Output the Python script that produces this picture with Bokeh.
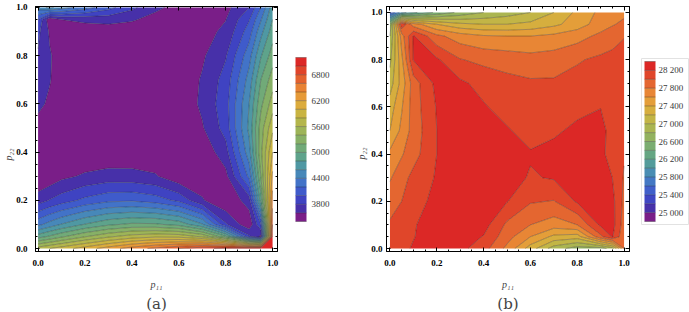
import numpy as np
from bokeh.plotting import figure
from bokeh.layouts import row
from bokeh.models import (Range1d, LinearAxis, SingleIntervalTicker, FixedTicker, Title,
                          PrintfTickFormatter, CustomJSTickFormatter)
from bokeh.embed import file_html
from bokeh.resources import INLINE

# ---------------- data ----------------
p11_grid = [0, 0.05, 0.1, 0.2, 0.3, 0.4, 0.5, 0.6, 0.7, 0.8, 0.9, 0.95, 1.0]
p22_grid = [0, 0.05, 0.1, 0.2, 0.3, 0.4, 0.5, 0.6, 0.7, 0.8, 0.9, 0.95, 1.0]

# panel (a): one row per p22 value, columns follow p11_grid
cost_a = [
    [5700, 5800, 5900, 6100, 6300, 6500, 6650, 6800, 6950, 7050, 7150, 7180, 7190],
    [4900, 5030, 5160, 5380, 5560, 5690, 5750, 5730, 5560, 5030, 3840, 3550, 7000],
    [4340, 4480, 4610, 4810, 4960, 5040, 5030, 4930, 4620, 3830, 3450, 3990, 6800],
    [3700, 3810, 3900, 4050, 4150, 4170, 4100, 3950, 3620, 3420, 3700, 4900, 6500],
    [3420, 3460, 3550, 3630, 3680, 3670, 3620, 3450, 3480, 3540, 4250, 5200, 6250],
    [3450, 3450, 3460, 3440, 3440, 3450, 3450, 3430, 3460, 3720, 4520, 5350, 6000],
    [3540, 3480, 3450, 3430, 3420, 3420, 3430, 3430, 3580, 3880, 4650, 5300, 5750],
    [3640, 3570, 3470, 3440, 3420, 3420, 3430, 3450, 3640, 3920, 4600, 5150, 5500],
    [3720, 3610, 3500, 3450, 3430, 3430, 3440, 3460, 3620, 3880, 4480, 5000, 5300],
    [3780, 3620, 3500, 3460, 3450, 3450, 3460, 3470, 3570, 3780, 4320, 4780, 5100],
    [3850, 3570, 3510, 3500, 3490, 3500, 3500, 3500, 3530, 3640, 4100, 4530, 4900],
    [4000, 3450, 3600, 3640, 3670, 3620, 3540, 3520, 3510, 3595, 3980, 4380, 4800],
    [4500, 4650, 4500, 4300, 4070, 3850, 3640, 3540, 3520, 3540, 3800, 4200, 4700],
]
levels_a = list(range(3400, 7201, 200))
ticks_a = [3800, 4400, 5000, 5600, 6200, 6800]

# panel (b)
cost_b = [
    [28120, 28150, 28220, 28300, 28260, 28080, 27750, 27300, 26900, 26700, 26700, 26900, 27800],
    [28080, 28100, 28190, 28320, 28300, 28190, 27880, 27600, 27350, 27300, 27950, 28220, 27850],
    [28030, 28060, 28180, 28320, 28330, 28280, 27960, 27800, 27700, 27800, 28240, 28280, 27900],
    [27900, 28000, 28130, 28250, 28340, 28330, 28210, 28020, 27990, 28230, 28300, 28260, 27950],
    [27780, 27920, 28060, 28220, 28340, 28340, 28290, 28180, 28220, 28300, 28320, 28200, 27980],
    [27650, 27780, 27920, 28200, 28320, 28330, 28290, 28220, 28260, 28320, 28250, 28120, 28020],
    [27400, 27650, 27880, 28200, 28300, 28280, 28220, 28120, 28170, 28240, 28260, 28130, 28080],
    [27300, 27580, 27900, 28215, 28290, 28220, 28120, 28080, 28100, 28150, 28195, 28120, 28100],
    [27100, 27480, 27900, 28260, 28240, 28130, 28060, 28030, 28030, 28070, 28100, 28100, 28100],
    [26950, 27550, 28210, 28230, 28010, 27950, 27920, 27880, 27900, 27980, 28040, 28060, 28080],
    [26800, 27700, 28220, 27850, 27700, 27620, 27600, 27600, 27650, 27720, 27850, 27920, 27990],
    [26650, 28180, 27700, 27400, 27250, 27200, 27200, 27250, 27350, 27500, 27700, 27780, 27850],
    [25400, 25900, 26150, 26450, 26650, 26800, 26900, 27000, 27200, 27450, 27650, 27700, 27750],
]
levels_b = list(range(24800, 28401, 200))
ticks_b = [25000, 25400, 25800, 26200, 26600, 27000, 27400, 27800, 28200]
tick_labels_b = ["25 000", "25 400", "25 800", "26 200", "26 600", "27 000", "27 400", "27 800", "28 200"]

# ---------------- styling ----------------
rainbow_stops = ["#7a1e88", "#4730a9", "#3f43c2", "#3f5bcb", "#4273c8", "#4788b9", "#4f98a3",
                 "#5ea38b", "#71aa78", "#87b066", "#9db458", "#b4b64c", "#c9b442", "#dcac3d",
                 "#e69a38", "#e88234", "#e3622f", "#e0442a", "#dc2826"]


def sample(stops, n):
    rgb = [tuple(int(s[i:i + 2], 16) for i in (1, 3, 5)) for s in stops]
    out = []
    for k in range(n):
        t = k / (n - 1) * (len(rgb) - 1)
        i = min(int(t), len(rgb) - 2)
        f = t - i
        c = tuple(int(round(rgb[i][j] * (1 - f) + rgb[i + 1][j] * f)) for j in range(3))
        out.append("#%02x%02x%02x" % c)
    return out


SERIF = "Liberation Serif"


def make_panel(z, levels, width, height, xr, yr, borders, caption, ystand, ylab_off, ylab_stand):
    bl, br, bt, bb = borders
    p = figure(width=width, height=height, x_range=Range1d(*xr), y_range=Range1d(*yr),
               output_backend="svg", toolbar_location=None,
               min_border_left=bl, min_border_right=br, min_border_top=bt, min_border_bottom=bb)
    p.background_fill_color = "white"
    p.border_fill_color = "white"
    p.outline_line_color = "black"
    p.outline_line_width = 1
    p.xgrid.visible = False
    p.ygrid.visible = False
    pal = sample(rainbow_stops, len(levels) - 1)
    cr = p.contour(x=np.array(p11_grid), y=np.array(p22_grid), z=np.array(z, dtype=float),
                   levels=levels, fill_color=pal, line_color="#1a1a1a",
                   line_alpha=0.55, line_width=0.6)
    for ax in (p.xaxis[0], p.yaxis[0]):
        ax.ticker = SingleIntervalTicker(interval=0.2, num_minor_ticks=4)
        ax.formatter = PrintfTickFormatter(format="%.1f")
        ax.major_tick_in = 4
        ax.major_tick_out = 0
        ax.minor_tick_in = 2
        ax.minor_tick_out = 0
        ax.axis_line_color = "black"
        ax.major_label_text_font = SERIF
        ax.major_label_text_font_style = "bold"
        ax.major_label_text_font_size = "9px"
        ax.major_label_text_color = "black"
    p.xaxis.major_label_standoff = 8
    p.yaxis.major_label_standoff = ystand
    p.xaxis.axis_label = "p\u2081\u2081"
    p.xaxis.axis_label_text_font = SERIF
    p.xaxis.axis_label_text_font_style = "italic"
    p.xaxis.axis_label_text_font_size = "10px"
    p.xaxis.axis_label_standoff = 10
    for side in ("above", "right"):
        ax = LinearAxis(ticker=SingleIntervalTicker(interval=0.2, num_minor_ticks=4),
                        formatter=CustomJSTickFormatter(code="return ''"),
                        major_label_text_font_size="0px", major_label_standoff=0,
                        major_tick_in=4, major_tick_out=0, minor_tick_in=2, minor_tick_out=0,
                        axis_line_color="black")
        p.add_layout(ax, side)
    p.add_layout(Title(text="p\u2082\u2082", align="left", offset=ylab_off, standoff=ylab_stand,
                       text_font=SERIF, text_font_style="italic", text_font_size="10px"),
                 "left")
    p.add_layout(Title(text=caption, align="center", text_font="DejaVu Serif",
                       text_font_size="15px", text_font_style="normal", standoff=0, offset=0),
                 "below")
    return p, cr


def add_bar(p, cr, ticks, overrides, location, height, padding, standoff, border):
    cb = cr.construct_color_bar(location=location, width=11, height=height, padding=padding,
                                margin=0, label_standoff=standoff, major_label_text_font=SERIF,
                                major_label_text_font_size="9px", major_label_text_color="#3a3a3a",
                                major_tick_line_color=None, border_line_color=border,
                                background_fill_color="white" if border else None)
    cb.ticker = FixedTicker(ticks=ticks)
    if overrides:
        cb.major_label_overrides = overrides
    p.add_layout(cb, "right")
    return cb


pa, cra = make_panel(cost_a, levels_a, 340, 312, (-0.011, 1.021), (-0.0124, 1.0041),
                     (30, 63, 2, 61), "(a)", 8, 91, 0)
add_bar(pa, cra, ticks_a, None, (18, 30), 164, 0, 5, None)

pb, crb = make_panel(cost_b, levels_b, 349, 312, (-0.0148, 1.0232), (-0.0127, 1.0253),
                     (46, 57, 6, 60), "(b)", 4, 92, 4)
add_bar(pb, crb, ticks_b, dict(zip(ticks_b, tick_labels_b)), (12, 27), 160, 3, 3, "#e2e2e2")

layout = row(pa, pb)
open("out.html", "w").write(file_html(layout, INLINE))
